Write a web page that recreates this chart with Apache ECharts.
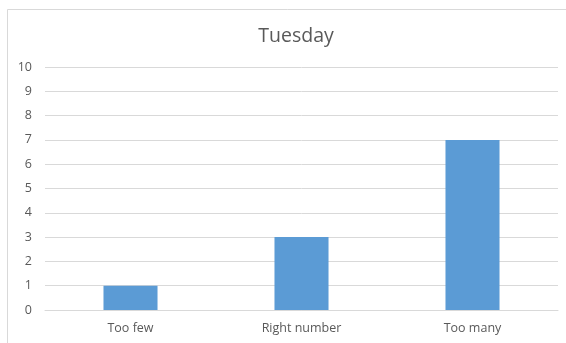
<!DOCTYPE html>
<html>
<head>
<meta charset="utf-8">
<script src="https://cdn.jsdelivr.net/npm/echarts@6/dist/echarts.min.js"></script>
<style>
  html, body { margin: 0; padding: 0; background: #fff; }
  #chart { width: 566px; height: 343px; }
</style>
</head>
<body>
<div id="chart"></div>
<script>
// Survey answers for Tuesday
const categories = ['Too few', 'Right number', 'Too many'];
const counts = [1, 3, 7];
const yTicks = [0, 1, 2, 3, 4, 5, 6, 7, 8, 9, 10];

const chart = echarts.init(document.getElementById('chart'), null, { renderer: 'canvas' });
const font = '"Open Sans", "Noto Sans", sans-serif';

chart.setOption({
  backgroundColor: '#ffffff',
  animation: false,
  title: {
    text: 'Tuesday',
    left: 291,
    textAlign: 'center',
    top: 21,
    textStyle: { fontFamily: font, fontSize: 19.5, fontWeight: 'normal', color: '#595959' }
  },
  graphic: [{
    type: 'rect',
    shape: { x: 7.5, y: 9.5, width: 600, height: 400 },
    style: { fill: 'none', stroke: '#d9d9d9', lineWidth: 1 },
    silent: true
  }],
  grid: { left: 45, right: 8, top: 67, bottom: 33, containLabel: false },
  xAxis: {
    type: 'category',
    data: categories,
    axisLine: { show: true, lineStyle: { color: '#d9d9d9', width: 1 } },
    axisTick: { show: false },
    axisLabel: { fontFamily: font, fontSize: 12.5, color: '#595959', margin: 12 }
  },
  yAxis: {
    type: 'value',
    min: yTicks[0],
    max: yTicks[yTicks.length - 1],
    interval: 1,
    axisLine: { show: false },
    axisTick: { show: false },
    splitLine: { lineStyle: { color: '#d9d9d9', width: 1 } },
    axisLabel: { fontFamily: font, fontSize: 12.5, color: '#595959', margin: 13 }
  },
  series: [{
    type: 'bar',
    data: counts,
    barWidth: '31.6%',
    itemStyle: { color: '#5b9bd5' }
  }]
});
</script>
</body>
</html>
